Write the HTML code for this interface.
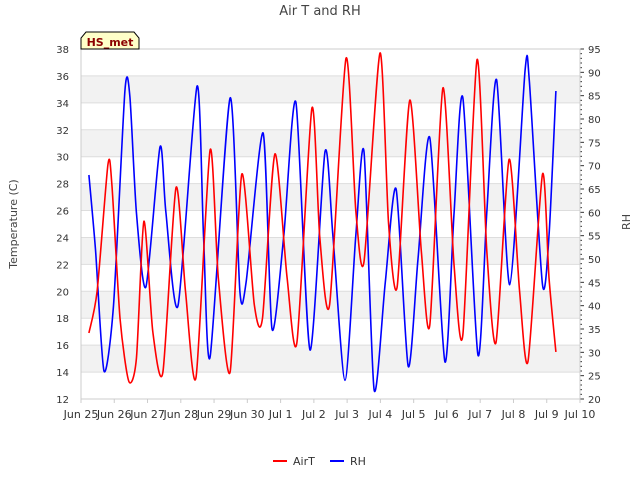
<!DOCTYPE html>
<html><head><meta charset="utf-8"><style>
body{margin:0;background:#fff;font-family:"Liberation Sans","DejaVu Sans",sans-serif}
</style></head><body>
<svg width="640" height="480" xmlns="http://www.w3.org/2000/svg" style="font-family:'DejaVu Sans','Liberation Sans',sans-serif">
<g id="bands"></g>
<g id="grid"></g>
<g id="axes"></g>
<g id="series"></g>
<text x="320" y="15" text-anchor="middle" font-size="13" fill="#444">Air T and RH</text>
<text transform="translate(17,224) rotate(-90)" text-anchor="middle" font-size="11" fill="#444">Temperature (C)</text>
<text transform="translate(630,222) rotate(-90)" text-anchor="middle" font-size="11" fill="#444">RH</text>
<g>
<path d="M81,49 L81,38 L86,32 L134,32 L139,38 L139,49 Z" fill="#ffffc8" stroke="#000" stroke-width="1"/>
<text x="110" y="46" text-anchor="middle" font-size="11" font-weight="bold" fill="#8b0000">HS_met</text>
</g>
<g>
<g><line x1="273" y1="461" x2="287" y2="461" stroke="#f00" stroke-width="2"/><text x="293" y="465" font-size="11" fill="#333">AirT</text></g>
<g><line x1="330" y1="461" x2="344" y2="461" stroke="#00f" stroke-width="2"/><text x="350" y="465" font-size="11" fill="#333">RH</text></g>
</g>
</svg>
<script>
const tempDays=[0.238,0.484,0.809,0.927,1.173,1.439,1.665,1.892,2.158,2.463,2.856,3.142,3.457,3.880,4.126,4.481,4.835,5.209,5.455,5.829,6.194,6.489,6.942,7.178,7.473,7.965,8.261,8.507,8.989,9.245,9.501,9.885,10.230,10.485,10.879,11.213,11.479,11.903,12.198,12.474,12.868,13.183,13.438,13.872,14.069,14.275];
const tempVals=[16.9,20,29.4,28,18,13.3,15,25.2,17,14.0,27.7,20,13.6,30.5,21,14.0,28.7,19,18.0,30.2,21,16.2,33.6,24,19,37.3,26,22.2,37.7,25,20.3,34.2,23,17.5,35.1,22,16.8,37.2,23,16.2,29.8,20,14.8,28.7,21,15.5];
const rhDays=[0.238,0.435,0.691,0.976,1.321,1.468,1.665,1.951,2.374,2.551,2.915,3.486,3.683,3.880,4.481,4.776,4.963,5.475,5.741,6.095,6.459,6.883,7.336,7.572,7.936,8.261,8.507,8.812,9.147,9.472,9.836,10.131,10.485,10.938,11.214,11.479,11.932,12.198,12.493,12.888,13.350,13.478,13.872,14.069,14.275];
const rhVals=[68,52,26,40,86,85,60,44,74,60,40,87,55,29,84.5,43,45,77,35,55,83.6,30.5,73,55,24,55,73,22,45,65,27,50,76,28,60,84.5,29.5,60,88.4,44.5,90.5,88,44.5,55,86];
const tTicks=[12,14,16,18,20,22,24,26,28,30,32,34,36,38];
const rhTicks=[20,25,30,35,40,45,50,55,60,65,70,75,80,85,90,95];
const dayLabels=["Jun 25","Jun 26","Jun 27","Jun 28","Jun 29","Jun 30","Jul 1","Jul 2","Jul 3","Jul 4","Jul 5","Jul 6","Jul 7","Jul 8","Jul 9","Jul 10"];
const L=81,R=580,T=49,B=399,NS="http://www.w3.org/2000/svg";
const xS=d=>L+d*(R-L)/15, yT=v=>B-(v-12)/(38-12)*(B-T), yR=v=>B-(v-20)/(95-20)*(B-T);
function mk(p,tag,a){const e=document.createElementNS(NS,tag);for(const k in a)e.setAttribute(k,a[k]);document.getElementById(p).appendChild(e);return e;}
mk('bands','rect',{x:L,y:T,width:R-L,height:B-T,fill:'#fff'});
for(let v=14;v<38;v+=4){const r=mk('bands','rect',{x:L,y:yT(v+2),width:R-L,height:yT(v)-yT(v+2),fill:'#f2f2f2'});

}
tTicks.forEach(v=>{mk('grid','line',{x1:L,x2:R,y1:yT(v),y2:yT(v),stroke:'#ddd','stroke-width':1});
const t=mk('axes','text',{x:L-12,y:yT(v)+4,'text-anchor':'end','font-size':10,fill:'#333'});t.textContent=v;

});
rhTicks.forEach(v=>{mk('axes','line',{x1:R,x2:R+4,y1:yR(v),y2:yR(v),stroke:'#333'});
const t=mk('axes','text',{x:R+8,y:yR(v)+4,'font-size':10,fill:'#333'});t.textContent=v;

});
for(let v=20;v<95;v++){if(v%5)mk('axes','line',{x1:R,x2:R+2,y1:yR(v),y2:yR(v),stroke:'#333'});}
mk('axes','rect',{x:L,y:T,width:R-L,height:B-T,fill:'none',stroke:'#ccc'});
dayLabels.forEach((s,i)=>{mk('axes','line',{x1:xS(i),x2:xS(i),y1:B,y2:B+4,stroke:'#ccc'});
const t=mk('axes','text',{x:xS(i),y:B+19,'text-anchor':'middle','font-size':11,fill:'#333'});t.textContent=s;

});
function smooth(pts){let d='M'+pts[0][0]+','+pts[0][1];for(let i=0;i<pts.length-1;i++){const p0=pts[Math.max(0,i-1)],p1=pts[i],p2=pts[i+1],p3=pts[Math.min(pts.length-1,i+2)];
const c1=[p1[0]+(p2[0]-p0[0])/8,p1[1]+(p2[1]-p0[1])/8],c2=[p2[0]-(p3[0]-p1[0])/8,p2[1]-(p3[1]-p1[1])/8];
d+=' C'+c1[0].toFixed(1)+','+c1[1].toFixed(1)+' '+c2[0].toFixed(1)+','+c2[1].toFixed(1)+' '+p2[0].toFixed(1)+','+p2[1].toFixed(1);}return d;}
const rh=mk('series','path',{d:smooth(rhDays.map((d,i)=>[xS(d),yR(rhVals[i])])),fill:'none',stroke:'#00f','stroke-width':1.6});


const at=mk('series','path',{d:smooth(tempDays.map((d,i)=>[xS(d),yT(tempVals[i])])),fill:'none',stroke:'#f00','stroke-width':1.6});


</script>
</body></html>
